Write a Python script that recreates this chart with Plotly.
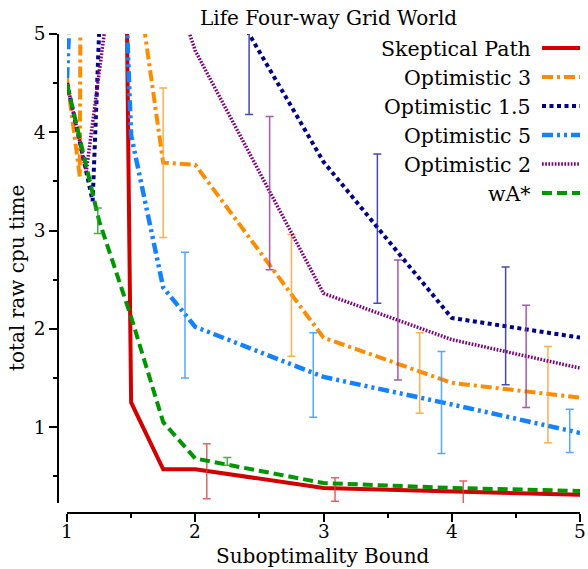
import plotly.graph_objects as go

W, H = 588, 569
FONT = "DejaVu Serif"

# ---- data -------------------------------------------------------------
skeptical_x = [1, 1.5, 1.75, 2, 3, 4, 5]
skeptical_y = [60, 1.25, 0.57, 0.57, 0.38, 0.34, 0.31]

opt3_x = [1, 1.1, 1.25, 1.5, 1.75, 2, 3, 4, 5]
opt3_y = [4.55, 3.55, 60, 6.0, 3.69, 3.67, 1.91, 1.45, 1.30]

opt15_x = [1, 1.2, 1.5, 2, 3, 4, 5]
opt15_y = [4.5, 3.3, 13.5, 5.94, 3.70, 2.11, 1.91]

opt5_x = [1, 1.25, 1.5, 1.75, 2, 3, 4, 5]
opt5_y = [4.55, 12.4, 3.97, 2.42, 2.02, 1.51, 1.23, 0.94]

opt2_x = [1, 1.15, 1.5, 1.75, 2, 3, 4, 5]
opt2_y = [4.5, 3.6, 7.1, 5.8, 4.83, 2.36, 1.89, 1.60]

wastar_x = [1, 1.25, 1.5, 1.75, 2, 3, 4, 5]
wastar_y = [4.49, 3.10, 2.12, 1.05, 0.68, 0.43, 0.38, 0.35]

# error bars: position, centre, half-width
skeptical_err_x = [2.09, 3.09, 4.09]
skeptical_err_y = [0.55, 0.365, 0.335]
skeptical_err = [0.28, 0.12, 0.115]

opt3_err_x = [1.75, 2.75, 3.75, 4.75]
opt3_err_y = [3.69, 2.34, 1.55, 1.33]
opt3_err = [0.76, 0.62, 0.41, 0.49]

opt15_err_x = [2.42, 3.42, 4.42]
opt15_err_y = [5.0, 3.02, 2.03]
opt15_err = [0.82, 0.76, 0.60]

opt5_err_x = [1.92, 2.92, 3.92, 4.92]
opt5_err_y = [2.14, 1.53, 1.25, 0.96]
opt5_err = [0.64, 0.43, 0.52, 0.22]

opt2_err_x = [2.58, 3.58, 4.58]
opt2_err_y = [3.38, 2.09, 1.72]
opt2_err = [0.78, 0.61, 0.52]

wastar_err_x = [1.24, 2.25]
wastar_err_y = [3.10, 0.65]
wastar_err = [0.13, 0.04]

series_names = ["Skeptical Path", "Optimistic 3", "Optimistic 1.5",
                "Optimistic 5", "Optimistic 2", "wA*"]

x_ticks = [1, 2, 3, 4, 5]
x_tick_labels = ["1", "2", "3", "4", "5"]
y_ticks = [1, 2, 3, 4, 5]

# ---- styles -----------------------------------------------------------
series = [
    (skeptical_x, skeptical_y, skeptical_err_x, skeptical_err_y, skeptical_err,
     "rgb(210,0,0)", "rgba(220,60,60,0.8)", "solid", 4),
    (opt3_x, opt3_y, opt3_err_x, opt3_err_y, opt3_err,
     "rgb(255,140,0)", "rgba(255,160,50,0.85)", "11px,4px,3px,4px", 4),
    (opt15_x, opt15_y, opt15_err_x, opt15_err_y, opt15_err,
     "rgb(0,0,140)", "rgba(40,40,160,0.85)", "4px,3.5px", 4),
    (opt5_x, opt5_y, opt5_err_x, opt5_err_y, opt5_err,
     "rgb(20,130,255)", "rgba(60,150,255,0.85)", "11px,4px,3px,4px,3px,4px", 4.5),
    (opt2_x, opt2_y, opt2_err_x, opt2_err_y, opt2_err,
     "rgb(128,0,128)", "rgba(150,60,160,0.85)", "1.7px,1.5px", 3.5),
    (wastar_x, wastar_y, wastar_err_x, wastar_err_y, wastar_err,
     "rgb(0,150,0)", "rgba(40,160,40,0.85)", "10px,5px", 4),
]

fig = go.Figure()
for name, (xs, ys, ex, ey, ee, col, ecol, dash, lw) in zip(series_names, series):
    fig.add_trace(go.Scatter(x=xs, y=ys, mode="lines", name=name,
                             line=dict(color=col, width=lw, dash=dash),
                             showlegend=False))
    fig.add_trace(go.Scatter(x=ex, y=ey, mode="markers", showlegend=False,
                             marker=dict(size=1, color="rgba(0,0,0,0)"),
                             error_y=dict(type="data", array=ee, visible=True,
                                          color=ecol, thickness=1.5, width=4)))

# ---- axes -------------------------------------------------------------
x0, x1 = 67, 580
y0, y1 = 34, 503
tickfont = dict(family=FONT, size=18.5, color="black")

fig.update_layout(
    width=W, height=H,
    margin=dict(l=0, r=0, t=0, b=0),
    paper_bgcolor="white", plot_bgcolor="white",
    xaxis=dict(domain=[x0 / W, x1 / W], range=[1, 5], anchor="free",
               position=(H - 513) / H, showline=True, linecolor="black",
               linewidth=1.5, ticks="outside", ticklen=8, tickwidth=1.5,
               tickcolor="black", tickvals=x_ticks, showticklabels=False,
               minor=dict(tickvals=[1.5, 2.5, 3.5, 4.5], ticks="outside",
                          ticklen=4, tickwidth=1.5, tickcolor="black"),
               showgrid=False, zeroline=False, automargin=False),
    yaxis=dict(domain=[(H - y1) / H, (H - y0) / H], range=[0.227, 5],
               anchor="free", position=58 / W, showline=True,
               linecolor="black", linewidth=1.5, ticks="outside", ticklen=8,
               tickwidth=1.5, tickcolor="black", tickvals=y_ticks,
               minor=dict(tickvals=[0.5, 1.5, 2.5, 3.5, 4.5], ticks="outside",
                          ticklen=4, tickwidth=1.5, tickcolor="black"),
               showgrid=False, zeroline=False, tickfont=tickfont,
               automargin=False),
)

# ---- titles and x tick labels ----------------------------------------
ann = []
for xv, lab in zip(x_ticks, x_tick_labels):
    ann.append(dict(text=lab, x=xv, y=1 - 531 / H, xref="x", yref="paper",
                    showarrow=False, xanchor="center", yanchor="middle",
                    font=tickfont))
ann.append(dict(text="Life Four-way Grid World", x=328 / W, y=1 - 18 / H,
                xref="paper", yref="paper", showarrow=False,
                xanchor="center", yanchor="middle",
                font=dict(family=FONT, size=20, color="black")))
ann.append(dict(text="Suboptimality Bound", x=323 / W, y=1 - 556 / H,
                xref="paper", yref="paper", showarrow=False,
                xanchor="center", yanchor="middle",
                font=dict(family=FONT, size=20, color="black")))
ann.append(dict(text="total raw cpu time", x=17 / W, y=1 - 278 / H,
                xref="paper", yref="paper", showarrow=False, textangle=-90,
                xanchor="center", yanchor="middle",
                font=dict(family=FONT, size=20, color="black")))

# ---- legend (label left, sample right) --------------------------------
row_y = [48, 77, 106, 135, 164, 193]
shapes = []
for name, (xs, ys, ex, ey, ee, col, ecol, dash, lw), ry in zip(series_names, series, row_y):
    ann.append(dict(text=name, x=533 / W, y=1 - (ry + 1) / H, xref="paper",
                    yref="paper", showarrow=False, xanchor="right",
                    yanchor="middle",
                    font=dict(family=FONT, size=20.5, color="black")))
    shapes.append(dict(type="line", xref="paper", yref="paper",
                       x0=542 / W, x1=580 / W, y0=1 - ry / H, y1=1 - ry / H,
                       line=dict(color=col, width=lw, dash=dash)))

fig.update_layout(annotations=ann, shapes=shapes)
fig.write_html("out.html")
